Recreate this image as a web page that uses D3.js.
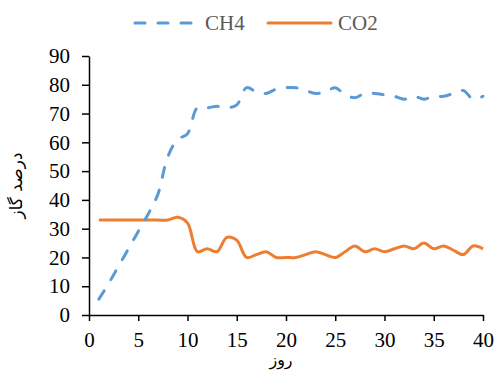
<!DOCTYPE html>
<html>
<head>
<meta charset="utf-8">
<script src="https://cdn.jsdelivr.net/npm/d3@7"></script>
<style>
  body { margin: 0; background: #fff; }
  text { font-family: "Liberation Serif", "Times New Roman", serif; }
</style>
</head>
<body>
<svg id="chart" width="495" height="375"></svg>
<script>
// days 1..40
const days = d3.range(1, 41);
const ch4 = [5.5, 11, 17, 23, 29, 35, 42, 55, 61, 63,
             72, 72, 72.5, 72, 73, 79, 77.5, 77, 78.5, 79,
             79, 78, 77, 77.5, 79, 76.5, 75.5, 77, 77, 76.5,
             76, 75, 76, 75, 76, 76, 77, 78, 75, 76];
const co2 = [33, 33, 33, 33, 33, 33, 33, 33, 34, 32,
             22, 23, 22, 27, 26, 20, 21, 22, 20, 20,
             20, 21, 22, 21, 20, 22, 24, 22, 23, 22,
             23, 24, 23, 25, 23, 24, 22.5, 21, 24, 23];
const xTicks = d3.range(0, 41, 5);
const yTicks = d3.range(0, 91, 10);

const margin = { top: 56, right: 12, bottom: 60, left: 89 };
const width = 495, height = 375;

const svg = d3.select('#chart');

const x = d3.scaleLinear().domain([0, 40]).range([margin.left, width - margin.right]);
const y = d3.scaleLinear().domain([0, 90]).range([height - margin.bottom, margin.top]);

// axes
const xAxis = svg.append('g')
  .attr('transform', `translate(0,${height - margin.bottom})`)
  .call(d3.axisBottom(x).tickValues(xTicks).tickSize(6).tickSizeOuter(0).tickPadding(11));
const yAxis = svg.append('g')
  .attr('transform', `translate(${margin.left},0)`)
  .call(d3.axisLeft(y).tickValues(yTicks).tickSize(7).tickSizeOuter(0).tickPadding(12));

[xAxis, yAxis].forEach(g => {
  g.select('.domain').attr('stroke', '#000').attr('stroke-width', 1.5);
  g.selectAll('.tick line').attr('stroke', '#000').attr('stroke-width', 1.5);
  g.selectAll('.tick text')
    .attr('fill', '#000')
    .style('font-size', '21px')
    .style('font-family', '"Liberation Serif", serif');
});

// lines
const line = d => d3.line()
  .x((v, i) => x(days[i]))
  .y(v => y(v))
  .curve(d3.curveCatmullRom.alpha(0.5))(d);

svg.append('path')
  .attr('d', line(co2))
  .attr('fill', 'none')
  .attr('stroke', '#ED7D31')
  .attr('stroke-width', 3);

svg.append('path')
  .attr('d', line(ch4))
  .attr('fill', 'none')
  .attr('stroke', '#5B9BD5')
  .attr('stroke-width', 3)
  .attr('stroke-linecap', 'round')
  .attr('stroke-dasharray', '10 13');

// legend
const legend = [
  { name: 'CH4', color: '#5B9BD5', dash: '10 13', x: 135 },
  { name: 'CO2', color: '#ED7D31', dash: null, x: 268 }
];
legend.forEach(l => {
  const g = svg.append('g').attr('transform', `translate(${l.x},23)`);
  g.append('line')
    .attr('x1', 0).attr('x2', 63).attr('y1', 0).attr('y2', 0)
    .attr('stroke', l.color).attr('stroke-width', 3)
    .attr('stroke-linecap', 'round')
    .attr('stroke-dasharray', l.dash);
  g.append('text')
    .attr('x', 70).attr('y', 7)
    .attr('fill', '#595959')
    .style('font-size', '21px')
    .text(l.name);
});

// axis titles
svg.append('text')
  .attr('x', 281)
  .attr('y', 365)
  .attr('text-anchor', 'middle')
  .attr('fill', '#000')
  .style('font-family', '"DejaVu Sans", sans-serif')
  .style('font-size', '16px')
  .text('روز');

svg.append('text')
  .attr('transform', `translate(22,${(margin.top + height - margin.bottom) / 2}) rotate(-90)`)
  .attr('text-anchor', 'middle')
  .attr('fill', '#000')
  .style('font-family', '"DejaVu Sans", sans-serif')
  .style('font-size', '17px')
  .text('درصد گاز');
</script>
</body>
</html>
